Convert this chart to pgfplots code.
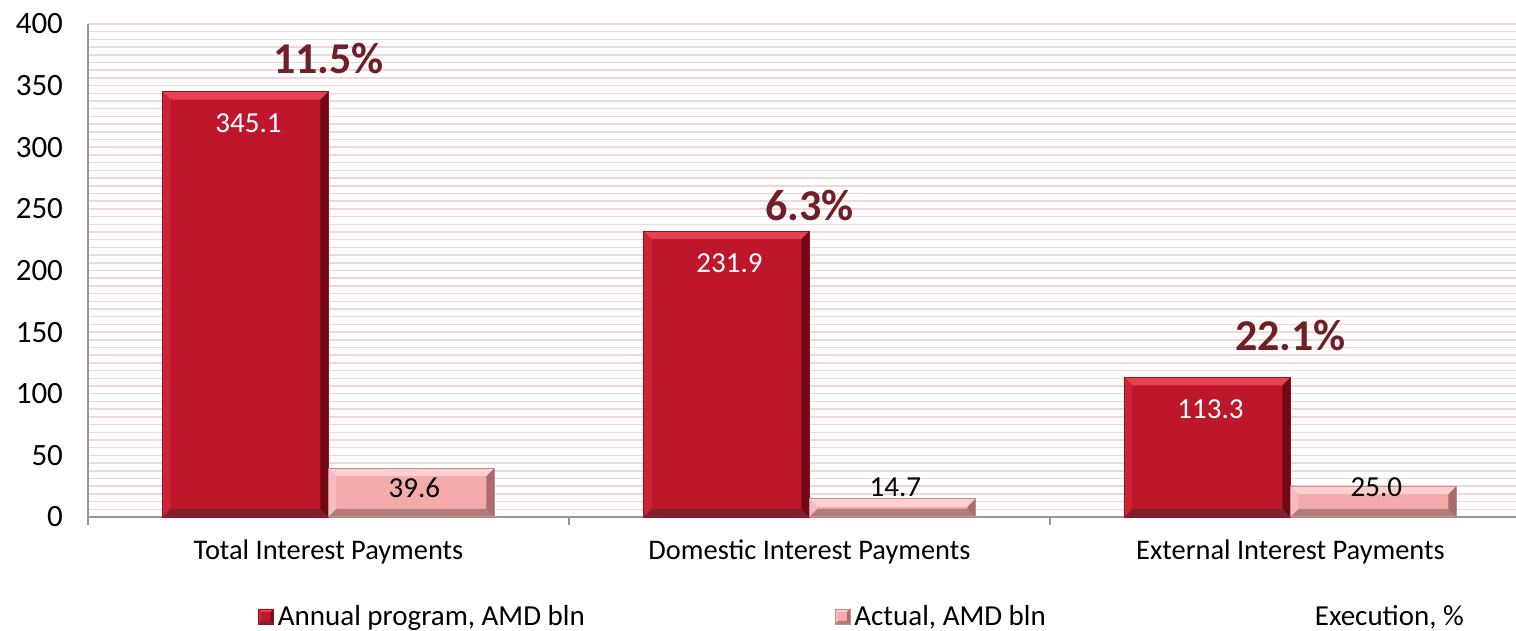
\documentclass[border=0pt]{standalone}
\usepackage{fontspec}
\setmainfont{Carlito}
\usepackage{pgfplots}
\pgfplotsset{compat=1.18}
\usetikzlibrary{calc}
\definecolor{darkbody}{RGB}{190,22,42}
\definecolor{darktop}{RGB}{230,66,82}
\definecolor{darkleft}{RGB}{205,36,52}
\definecolor{darkright}{RGB}{112,8,22}
\definecolor{darkbottom}{RGB}{128,34,46}
\definecolor{darkedge}{RGB}{150,15,30}
\definecolor{lightbody}{RGB}{242,170,170}
\definecolor{lighttop}{RGB}{255,206,206}
\definecolor{lightleft}{RGB}{248,188,188}
\definecolor{lightright}{RGB}{168,108,108}
\definecolor{lightbottom}{RGB}{178,124,124}
\definecolor{lightedge}{RGB}{196,140,140}
\definecolor{stripe}{RGB}{242,214,216}
\definecolor{pctcol}{RGB}{110,32,38}
\definecolor{axgray}{RGB}{150,150,150}

\newcommand{\bevel}[5]{%
  \coordinate (bNW) at (path picture bounding box.north west);
  \coordinate (bNE) at (path picture bounding box.north east);
  \coordinate (bSW) at (path picture bounding box.south west);
  \coordinate (bSE) at (path picture bounding box.south east);
  \fill[#2] (bNW) -- (bNE) -- ($(bNE)+(-#1,-#1)$) -- ($(bNW)+(#1,-#1)$) -- cycle;
  \fill[#3] (bNW) -- ($(bNW)+(#1,-#1)$) -- ($(bSW)+(#1,#1)$) -- (bSW) -- cycle;
  \fill[#4] (bNE) -- ($(bNE)+(-#1,-#1)$) -- ($(bSE)+(-#1,#1)$) -- (bSE) -- cycle;
  \fill[#5] (bSW) -- ($(bSW)+(#1,#1)$) -- ($(bSE)+(-#1,#1)$) -- (bSE) -- cycle;
}
\tikzset{
  darkbevel/.style={path picture={\bevel{4pt}{darktop}{darkleft}{darkright}{darkbottom}}},
  lightbevel/.style={path picture={\bevel{4pt}{lighttop}{lightleft}{lightright}{lightbottom}}},
}

\begin{document}
\begin{tikzpicture}
\begin{axis}[
  scale only axis, width=714pt, height=246.5pt,
  xmin=-0.5, xmax=2.469, ymin=0, ymax=400,
  axis x line*=bottom, axis y line*=left,
  axis line style={draw=axgray, line width=1pt},
  ytick={0,50,...,400},
  minor y tick num=7,
  ymajorgrids, yminorgrids,
  major grid style={stripe, line width=0.75pt},
  minor grid style={stripe, line width=0.75pt},
  xtick={0,1,2},
  xticklabels={Total Interest Payments, Domestic Interest Payments, External Interest Payments},
  minor xtick={-0.5,0.5,1.5,2.5},
  tick align=outside,
  major tick length=0pt,
  minor tick length=4pt,
  xtick style={draw=axgray, line width=1pt},
  ytick style={draw=none},
  /pgf/number format/assume math mode=true,
  yticklabel style={font=\fontsize{15.5}{18}\selectfont, xshift=-9pt},
  xticklabel style={font=\fontsize{14.2}{17}\selectfont, yshift=-8pt},
  legend style={at={(0.1148,-0.2028)}, anchor=west, draw=none, fill=none,
    legend columns=3, font=\fontsize{14.5}{17}\selectfont,
    /tikz/every even column/.append style={column sep=123pt}},
  legend cell align=left,
]
% Annual program bars (bevel drawn as a node sized from the bar's value)
\addplot[ybar, bar width=0.345, bar shift=-0.1725, fill=darkbody, draw=none,
  visualization depends on={y \as \rawy},
  nodes near coords={}, 
  nodes near coords style={anchor=north, inner sep=0pt, outer sep=0pt, xshift=-41.49pt,
     minimum width=82.97pt, minimum height={\rawy*0.61625pt},
     draw=darkedge, line width=0.5pt, darkbevel},
  legend image code/.code={\fill[darkbody, draw=darkedge, line width=0.3pt,
     path picture={\bevel{1.5pt}{darktop}{darkleft}{darkright}{darkbottom}}] (0pt,-3.5pt) rectangle (7.5pt,4pt);}]
  coordinates {(0,345.1) (1,231.9) (2,113.3)};
\addlegendentry{Annual program, AMD bln}
% Actual bars
\addplot[ybar, bar width=0.345, bar shift=0.1725, fill=lightbody, draw=none,
  visualization depends on={y \as \rawy},
  nodes near coords={},
  nodes near coords style={anchor=north, inner sep=0pt, outer sep=0pt, xshift=41.49pt,
     minimum width=82.97pt, minimum height={\rawy*0.61625pt},
     draw=lightedge, line width=0.5pt, lightbevel},
  legend image code/.code={\fill[lightbody, draw=lightedge, line width=0.3pt,
     path picture={\bevel{1.5pt}{lighttop}{lightleft}{lightright}{lightbottom}}] (0pt,-3.5pt) rectangle (7.5pt,4pt);}]
  coordinates {(0,39.6) (1,14.7) (2,25.0)};
\addlegendentry{Actual, AMD bln}
\addlegendimage{draw=none, fill=none, legend image code/.code={\path[draw=none, fill=none] (0pt,-3.5pt) rectangle (7.5pt,4pt);}}
\addlegendentry{Execution, \%}
% value labels of the annual program bars
\addplot[draw=none, forget plot, nodes near coords, point meta=explicit symbolic,
  nodes near coords style={anchor=center, yshift=-16pt, xshift=1.5pt, text=white, font=\fontsize{14.5}{17}\selectfont}]
  coordinates {(-0.1725,345.1)[345.1] (0.8275,231.9)[231.9] (1.8275,113.3)[113.3]};
% value labels of the actual bars
\addplot[draw=none, forget plot, nodes near coords, point meta=explicit symbolic,
  nodes near coords style={anchor=center, xshift=1.5pt, text=black, font=\fontsize{14.5}{17}\selectfont}]
  coordinates {(0.1725,24)[39.6] (1.1725,24)[14.7] (2.1725,24)[25.0]};
% execution percentages
\addplot[draw=none, forget plot, nodes near coords, point meta=explicit symbolic,
  nodes near coords style={anchor=center, text=pctcol, font=\bfseries\fontsize{22}{25}\selectfont}]
  coordinates {(0,372.4)[11.5\%] (1,253.1)[6.3\%] (2,146.9)[22.1\%]};
\end{axis}
\pgfresetboundingbox
\path[use as bounding box] (-44pt,-57pt) rectangle (714pt,258.5pt);
\end{tikzpicture}
\end{document}
